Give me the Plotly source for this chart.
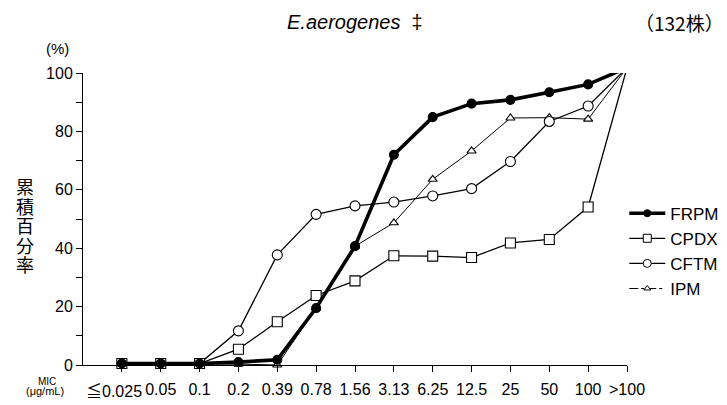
import plotly.graph_objects as go

categories = ["≦0.025", "0.05", "0.1", "0.2", "0.39", "0.78", "1.56",
              "3.13", "6.25", "12.5", "25", "50", "100", ">100"]
frpm = [0.5, 0.5, 0.5, 1.0, 1.8, 19.5, 40.7, 72.0, 84.9, 89.5, 90.8, 93.4, 96.1, 101.8]
cpdx = [0.5, 0.5, 0.5, 5.4, 14.8, 23.8, 28.8, 37.4, 37.3, 36.8, 41.8, 43.0, 54.1, 101.8]
cftm = [0.5, 0.5, 0.5, 11.7, 37.7, 51.6, 54.5, 55.8, 57.9, 60.4, 69.7, 83.4, 88.7, 101.8]
ipm = [0.5, 0.5, 0.5, 0.3, 0.0, 19.5, 40.7, 48.7, 63.6, 73.3, 84.6, 84.7, 84.2, 101.8]
y_tick_vals = [0, 20, 40, 60, 80, 100]
ylabel_chars = ["累", "積", "百", "分", "率"]

xs = list(range(len(categories)))
FONT = "Liberation Sans, Arial, sans-serif"
CJK = "Noto Sans CJK JP, sans-serif"

# first label is drawn as an annotation (it sits left of its tick in the original)
ticktext = [""] + categories[1:]
first_label = ('<span style="font-family:Noto Sans CJK JP">' + categories[0][0]
               + "</span>" + categories[0][1:])

styles = {
    "FRPM": dict(y=frpm, width=3.6, symbol="circle", size=9, fill="black"),
    "CPDX": dict(y=cpdx, width=1.3, symbol="square", size=10, fill="white"),
    "CFTM": dict(y=cftm, width=1.3, symbol="circle", size=10, fill="white"),
    "IPM": dict(y=ipm, width=1.0, symbol="triangle-up", size=8, fill="white"),
}

fig = go.Figure()
for name in ["IPM", "CFTM", "CPDX", "FRPM"]:
    s = styles[name]
    fig.add_trace(go.Scatter(
        x=xs, y=s["y"], mode="lines+markers", name=name, showlegend=False,
        cliponaxis=False,
        line=dict(color="black", width=s["width"]),
        marker=dict(symbol=s["symbol"], size=s["size"], color=s["fill"],
                    line=dict(color="black", width=1.1)),
    ))

legend_dash = {"FRPM": "solid", "CPDX": "solid", "CFTM": "solid", "IPM": "dashdot"}
for name in ["FRPM", "CPDX", "CFTM", "IPM"]:
    s = styles[name]
    fig.add_trace(go.Scatter(
        x=[None], y=[None], mode="lines+markers", name=name, showlegend=True,
        line=dict(color="black", width=s["width"], dash=legend_dash[name]),
        marker=dict(symbol=s["symbol"], size=s["size"] - 2, color=s["fill"],
                    line=dict(color="black", width=1)),
    ))

fig.update_layout(
    width=727, height=405,
    margin=dict(l=83, r=100, t=73, b=40, autoexpand=False),
    plot_bgcolor="white", paper_bgcolor="white",
    font=dict(family=FONT, size=16, color="black"),
    legend=dict(x=0.995, y=0.58, xanchor="left", yanchor="top",
                font=dict(family=FONT, size=17, color="black"),
                bgcolor="rgba(0,0,0,0)", tracegroupgap=0, itemwidth=36),
    xaxis=dict(range=[-1, len(categories) - 1], tickvals=xs, ticktext=ticktext,
               tickangle=0, automargin=False, ticklabelstandoff=4,
               showgrid=False, zeroline=False, showline=True, linecolor="black",
               linewidth=1, ticks="outside", ticklen=6, tickcolor="black",
               tickfont=dict(family=FONT, size=16)),
    yaxis=dict(range=[0, 100], tickvals=y_tick_vals, showgrid=False, zeroline=False,
               automargin=False,
               showline=True, linecolor="black", linewidth=1, ticks="outside",
               ticklen=6, tickcolor="black", tickfont=dict(family=FONT, size=16),
               minor=dict(dtick=10, ticks="outside", ticklen=6, tickcolor="black")),
)

ann = [
    dict(text="<i>E.aerogenes</i>  ‡", x=355, y=22, font=dict(family=FONT, size=20)),
    dict(text="（132株）", x=679, y=22, font=dict(family=CJK, size=19)),
    dict(text="(%)", x=57, y=48, font=dict(family=FONT, size=15)),
    dict(text="MIC", x=47, y=381, font=dict(family=FONT, size=10)),
    dict(text="(μg/mL)", x=45, y=391, font=dict(family=FONT, size=11)),
    dict(text=first_label, x=114, y=390, font=dict(family=FONT, size=16)),
]
for i, ch in enumerate(ylabel_chars):
    ann.append(dict(text=ch, x=25, y=186 + i * 19.5, font=dict(family=CJK, size=18)))

# positions above are figure pixels; convert to paper coords of the plot area
for a in ann:
    fig.add_annotation(text=a["text"], x=(a["x"] - 83) / 544, y=(365 - a["y"]) / 292,
                       xref="paper", yref="paper", showarrow=False,
                       xanchor="center", yanchor="middle", font=a["font"])

fig.write_html("out.html")
